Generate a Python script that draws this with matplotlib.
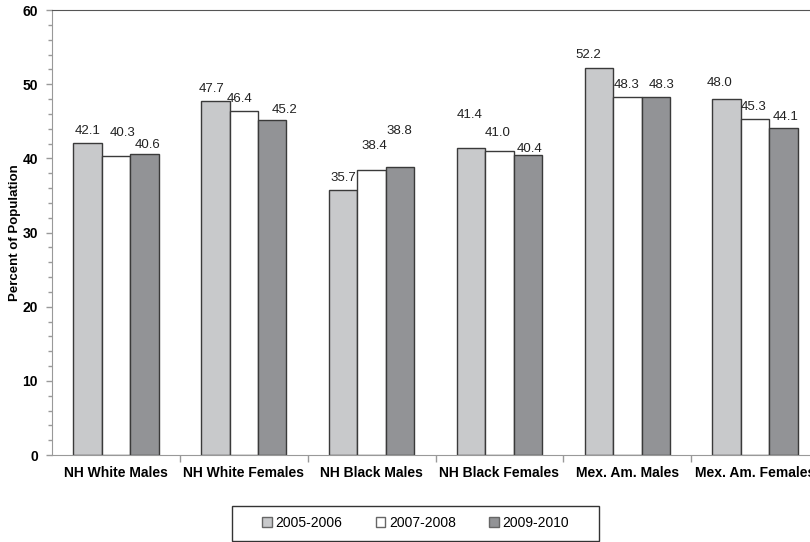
import numpy as np
import matplotlib
matplotlib.use('Agg')
import matplotlib.pyplot as plt
from matplotlib.patches import Rectangle
from matplotlib.ticker import MultipleLocator, FixedLocator

plt.rcParams['font.family'] = ['Liberation Sans', 'DejaVu Sans']

groups = ['NH White Males', 'NH White Females', 'NH Black Males',
          'NH Black Females', 'Mex. Am. Males', 'Mex. Am. Females']
periods = ['2005-2006', '2007-2008', '2009-2010']
vals_0506 = [42.1, 47.7, 35.7, 41.4, 52.2, 48.0]
vals_0708 = [40.3, 46.4, 38.4, 41.0, 48.3, 45.3]
vals_0910 = [40.6, 45.2, 38.8, 40.4, 48.3, 44.1]

colors = ['#c8c9cb', '#ffffff', '#929396']
edge = '#3a3a3a'

# label nudges (pixels) so the labels sit roughly where the original has them
nudges = [
    [(0, 12), (-4, 12), (0, 12), (-1, 33), (-11, 13), (-7, 16)],
    [(7, 23), (-4, 12), (3, 24), (-2, 18), (-1, 12), (-2, 12)],
    [(3, 9), (12, 10), (-1, 36), (2, 6), (6, 12), (2, 11)],
]

fig = plt.figure(figsize=(8.1, 5.42), dpi=100)
ax = fig.add_axes([0.0642, 0.1605, 0.947, 0.821])

x = np.arange(len(groups))
w = 0.2227
series = [vals_0506, vals_0708, vals_0910]
for i, (vals, c, lab) in enumerate(zip(series, colors, periods)):
    xs = x + (i - 1) * w
    ax.bar(xs, vals, width=w, color=c, edgecolor=edge, linewidth=1.0, label=lab)
    for xi, v, (dx, dy) in zip(xs, vals, nudges[i]):
        ax.annotate(f'{v:.1f}', xy=(xi, v), xytext=(dx, dy), textcoords='offset pixels',
                    ha='center', va='center', fontsize=9.5, color='#222222')

ax.set_xlim(-0.5, len(groups) - 0.5)
ax.set_ylim(0, 60)

ax.yaxis.set_major_locator(MultipleLocator(10))
ax.yaxis.set_minor_locator(MultipleLocator(2))
ax.tick_params(axis='y', which='major', length=4, width=1, color='#999999', pad=6,
               labelsize=10)
ax.tick_params(axis='y', which='minor', length=3, width=1, color='#999999')
for t in ax.get_yticklabels():
    t.set_fontweight('bold')

ax.set_xticks(x)
ax.set_xticklabels(groups, fontsize=10, fontweight='bold')
ax.xaxis.set_minor_locator(FixedLocator(np.arange(0.5, len(groups) - 0.5, 1)))
ax.tick_params(axis='x', which='major', length=0, pad=8)
ax.tick_params(axis='x', which='minor', length=5, width=1, color='#999999')

ax.set_ylabel('Percent of Population', fontsize=9.5, fontweight='bold', labelpad=1)

ax.spines['left'].set_color('#999999')
ax.spines['bottom'].set_color('#999999')
ax.spines['top'].set_color('#555555')
ax.spines['right'].set_visible(False)

leg = fig.legend(loc='center', bbox_to_anchor=(0.513, 0.035), ncol=3, fontsize=10,
                 frameon=False, handlelength=0.7, handleheight=0.7,
                 handletextpad=0.25, columnspacing=2.4)
for h in leg.legend_handles:
    h.set_edgecolor('#666666')

# plain box round the legend, wider than the legend's own frame
fig.patches.append(Rectangle((232 / 810, 1 - 541 / 542), 367 / 810, 35 / 542,
                             transform=fig.transFigure, fill=False,
                             edgecolor='#333333', linewidth=1.0))

fig.savefig('out.png', dpi=100)
